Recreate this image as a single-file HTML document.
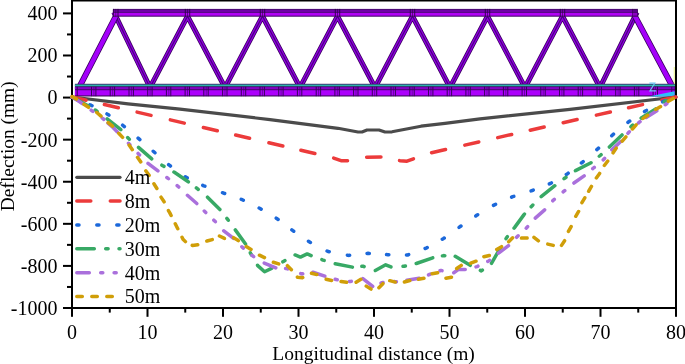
<!DOCTYPE html><html><head><meta charset="utf-8"><style>html,body{margin:0;padding:0;background:#fff;}svg{display:block;will-change:transform;}text{font-family:"Liberation Serif",serif;}</style></head><body>
<svg width="685" height="364" viewBox="0 0 685 364">
<rect width="685" height="364" fill="#fff"/>
<g><path d="M113.85,12.24L150.22,87.95M149.77,87.94L189.60,12.32M185.40,12.32L225.23,87.94M224.77,87.94L264.60,12.32M260.40,12.32L300.23,87.94M299.77,87.94L339.60,12.32M335.40,12.32L375.23,87.94M374.77,87.94L414.60,12.32M410.40,12.32L450.23,87.94M449.77,87.94L489.60,12.32M485.40,12.32L525.23,87.94M524.77,87.94L564.60,12.32M560.40,12.32L600.23,87.94M599.78,87.95L636.99,12.26" fill="none" stroke="#3a0060" stroke-width="5.2"/><path d="M113.85,12.24L150.22,87.95M149.77,87.94L189.60,12.32M185.40,12.32L225.23,87.94M224.77,87.94L264.60,12.32M260.40,12.32L300.23,87.94M299.77,87.94L339.60,12.32M335.40,12.32L375.23,87.94M374.77,87.94L414.60,12.32M410.40,12.32L450.23,87.94M449.77,87.94L489.60,12.32M485.40,12.32L525.23,87.94M524.77,87.94L564.60,12.32M560.40,12.32L600.23,87.94M599.78,87.95L636.99,12.26" fill="none" stroke="#9000e0" stroke-width="3.6"/><path d="M113.85,12.24L150.22,87.95M149.77,87.94L189.60,12.32M185.40,12.32L225.23,87.94M224.77,87.94L264.60,12.32M260.40,12.32L300.23,87.94M299.77,87.94L339.60,12.32M335.40,12.32L375.23,87.94M374.77,87.94L414.60,12.32M410.40,12.32L450.23,87.94M449.77,87.94L489.60,12.32M485.40,12.32L525.23,87.94M524.77,87.94L564.60,12.32M560.40,12.32L600.23,87.94M599.78,87.95L636.99,12.26" fill="none" stroke="#4c0080" stroke-width="1.2"/><path d="M78.87,87.94L117.86,12.30M632.88,12.33L673.24,87.94" fill="none" stroke="#3a0060" stroke-width="6.0"/><path d="M78.87,87.94L117.86,12.30M632.88,12.33L673.24,87.94" fill="none" stroke="#a400fa" stroke-width="4.4"/><rect x="112.9" y="8.9" width="524.7" height="7.85" fill="#4c0c74"/><rect x="112.9" y="9.9" width="524.7" height="2.5" fill="#6e00a6"/><rect x="112.9" y="13.0" width="524.7" height="2.6" fill="#b200f6"/><rect x="113.1" y="8.9" width="1" height="7.85" fill="#2e0048" opacity="0.9"/><rect x="115.3" y="8.9" width="1" height="7.85" fill="#2e0048" opacity="0.6"/><rect x="117.5" y="8.9" width="1" height="7.85" fill="#2e0048" opacity="0.9"/><rect x="184.8" y="8.9" width="1" height="7.85" fill="#2e0048" opacity="0.9"/><rect x="187.0" y="8.9" width="1" height="7.85" fill="#2e0048" opacity="0.6"/><rect x="189.2" y="8.9" width="1" height="7.85" fill="#2e0048" opacity="0.9"/><rect x="259.8" y="8.9" width="1" height="7.85" fill="#2e0048" opacity="0.9"/><rect x="262.0" y="8.9" width="1" height="7.85" fill="#2e0048" opacity="0.6"/><rect x="264.2" y="8.9" width="1" height="7.85" fill="#2e0048" opacity="0.9"/><rect x="334.8" y="8.9" width="1" height="7.85" fill="#2e0048" opacity="0.9"/><rect x="337.0" y="8.9" width="1" height="7.85" fill="#2e0048" opacity="0.6"/><rect x="339.2" y="8.9" width="1" height="7.85" fill="#2e0048" opacity="0.9"/><rect x="409.8" y="8.9" width="1" height="7.85" fill="#2e0048" opacity="0.9"/><rect x="412.0" y="8.9" width="1" height="7.85" fill="#2e0048" opacity="0.6"/><rect x="414.2" y="8.9" width="1" height="7.85" fill="#2e0048" opacity="0.9"/><rect x="484.8" y="8.9" width="1" height="7.85" fill="#2e0048" opacity="0.9"/><rect x="487.0" y="8.9" width="1" height="7.85" fill="#2e0048" opacity="0.6"/><rect x="489.2" y="8.9" width="1" height="7.85" fill="#2e0048" opacity="0.9"/><rect x="559.8" y="8.9" width="1" height="7.85" fill="#2e0048" opacity="0.9"/><rect x="562.0" y="8.9" width="1" height="7.85" fill="#2e0048" opacity="0.6"/><rect x="564.2" y="8.9" width="1" height="7.85" fill="#2e0048" opacity="0.9"/><rect x="632.3" y="8.9" width="1" height="7.85" fill="#2e0048" opacity="0.9"/><rect x="634.5" y="8.9" width="1" height="7.85" fill="#2e0048" opacity="0.6"/><rect x="636.7" y="8.9" width="1" height="7.85" fill="#2e0048" opacity="0.9"/><rect x="74.9" y="83.8" width="600.1" height="12.7" fill="#3c0a5c"/><rect x="74.9" y="84.5" width="600.1" height="1.8" fill="#2bb3aa"/><rect x="74.9" y="87.1" width="600.1" height="2.2" fill="#8600c6"/><rect x="74.9" y="90.2" width="600.1" height="5.2" fill="#ac00fc"/><rect x="76.7" y="86.6" width="1" height="9.6" fill="#3a0060" opacity="1.0"/><rect x="91.0" y="86.6" width="1" height="9.6" fill="#3a0060" opacity="1.0"/><rect x="93.4" y="86.6" width="1" height="9.6" fill="#3a0060" opacity="0.55"/><rect x="95.4" y="86.6" width="1" height="9.6" fill="#3a0060" opacity="1.0"/><rect x="109.7" y="86.6" width="1" height="9.6" fill="#3a0060" opacity="1.0"/><rect x="112.1" y="86.6" width="1" height="9.6" fill="#3a0060" opacity="0.55"/><rect x="114.1" y="86.6" width="1" height="9.6" fill="#3a0060" opacity="1.0"/><rect x="128.5" y="86.6" width="1" height="9.6" fill="#3a0060" opacity="1.0"/><rect x="130.9" y="86.6" width="1" height="9.6" fill="#3a0060" opacity="0.55"/><rect x="132.9" y="86.6" width="1" height="9.6" fill="#3a0060" opacity="1.0"/><rect x="147.2" y="86.6" width="1" height="9.6" fill="#3a0060" opacity="1.0"/><rect x="149.6" y="86.6" width="1" height="9.6" fill="#3a0060" opacity="0.55"/><rect x="151.6" y="86.6" width="1" height="9.6" fill="#3a0060" opacity="1.0"/><rect x="165.9" y="86.6" width="1" height="9.6" fill="#3a0060" opacity="1.0"/><rect x="168.3" y="86.6" width="1" height="9.6" fill="#3a0060" opacity="0.55"/><rect x="170.3" y="86.6" width="1" height="9.6" fill="#3a0060" opacity="1.0"/><rect x="184.6" y="86.6" width="1" height="9.6" fill="#3a0060" opacity="1.0"/><rect x="187.0" y="86.6" width="1" height="9.6" fill="#3a0060" opacity="0.55"/><rect x="189.0" y="86.6" width="1" height="9.6" fill="#3a0060" opacity="1.0"/><rect x="203.3" y="86.6" width="1" height="9.6" fill="#3a0060" opacity="1.0"/><rect x="205.7" y="86.6" width="1" height="9.6" fill="#3a0060" opacity="0.55"/><rect x="207.7" y="86.6" width="1" height="9.6" fill="#3a0060" opacity="1.0"/><rect x="222.1" y="86.6" width="1" height="9.6" fill="#3a0060" opacity="1.0"/><rect x="224.5" y="86.6" width="1" height="9.6" fill="#3a0060" opacity="0.55"/><rect x="226.5" y="86.6" width="1" height="9.6" fill="#3a0060" opacity="1.0"/><rect x="240.8" y="86.6" width="1" height="9.6" fill="#3a0060" opacity="1.0"/><rect x="243.2" y="86.6" width="1" height="9.6" fill="#3a0060" opacity="0.55"/><rect x="245.2" y="86.6" width="1" height="9.6" fill="#3a0060" opacity="1.0"/><rect x="259.5" y="86.6" width="1" height="9.6" fill="#3a0060" opacity="1.0"/><rect x="261.9" y="86.6" width="1" height="9.6" fill="#3a0060" opacity="0.55"/><rect x="263.9" y="86.6" width="1" height="9.6" fill="#3a0060" opacity="1.0"/><rect x="278.2" y="86.6" width="1" height="9.6" fill="#3a0060" opacity="1.0"/><rect x="280.6" y="86.6" width="1" height="9.6" fill="#3a0060" opacity="0.55"/><rect x="282.6" y="86.6" width="1" height="9.6" fill="#3a0060" opacity="1.0"/><rect x="296.9" y="86.6" width="1" height="9.6" fill="#3a0060" opacity="1.0"/><rect x="299.3" y="86.6" width="1" height="9.6" fill="#3a0060" opacity="0.55"/><rect x="301.3" y="86.6" width="1" height="9.6" fill="#3a0060" opacity="1.0"/><rect x="315.7" y="86.6" width="1" height="9.6" fill="#3a0060" opacity="1.0"/><rect x="318.1" y="86.6" width="1" height="9.6" fill="#3a0060" opacity="0.55"/><rect x="320.1" y="86.6" width="1" height="9.6" fill="#3a0060" opacity="1.0"/><rect x="334.4" y="86.6" width="1" height="9.6" fill="#3a0060" opacity="1.0"/><rect x="336.8" y="86.6" width="1" height="9.6" fill="#3a0060" opacity="0.55"/><rect x="338.8" y="86.6" width="1" height="9.6" fill="#3a0060" opacity="1.0"/><rect x="353.1" y="86.6" width="1" height="9.6" fill="#3a0060" opacity="1.0"/><rect x="355.5" y="86.6" width="1" height="9.6" fill="#3a0060" opacity="0.55"/><rect x="357.5" y="86.6" width="1" height="9.6" fill="#3a0060" opacity="1.0"/><rect x="371.8" y="86.6" width="1" height="9.6" fill="#3a0060" opacity="1.0"/><rect x="374.2" y="86.6" width="1" height="9.6" fill="#3a0060" opacity="0.55"/><rect x="376.2" y="86.6" width="1" height="9.6" fill="#3a0060" opacity="1.0"/><rect x="390.5" y="86.6" width="1" height="9.6" fill="#3a0060" opacity="1.0"/><rect x="392.9" y="86.6" width="1" height="9.6" fill="#3a0060" opacity="0.55"/><rect x="394.9" y="86.6" width="1" height="9.6" fill="#3a0060" opacity="1.0"/><rect x="409.3" y="86.6" width="1" height="9.6" fill="#3a0060" opacity="1.0"/><rect x="411.7" y="86.6" width="1" height="9.6" fill="#3a0060" opacity="0.55"/><rect x="413.7" y="86.6" width="1" height="9.6" fill="#3a0060" opacity="1.0"/><rect x="428.0" y="86.6" width="1" height="9.6" fill="#3a0060" opacity="1.0"/><rect x="430.4" y="86.6" width="1" height="9.6" fill="#3a0060" opacity="0.55"/><rect x="432.4" y="86.6" width="1" height="9.6" fill="#3a0060" opacity="1.0"/><rect x="446.7" y="86.6" width="1" height="9.6" fill="#3a0060" opacity="1.0"/><rect x="449.1" y="86.6" width="1" height="9.6" fill="#3a0060" opacity="0.55"/><rect x="451.1" y="86.6" width="1" height="9.6" fill="#3a0060" opacity="1.0"/><rect x="465.4" y="86.6" width="1" height="9.6" fill="#3a0060" opacity="1.0"/><rect x="467.8" y="86.6" width="1" height="9.6" fill="#3a0060" opacity="0.55"/><rect x="469.8" y="86.6" width="1" height="9.6" fill="#3a0060" opacity="1.0"/><rect x="484.1" y="86.6" width="1" height="9.6" fill="#3a0060" opacity="1.0"/><rect x="486.5" y="86.6" width="1" height="9.6" fill="#3a0060" opacity="0.55"/><rect x="488.5" y="86.6" width="1" height="9.6" fill="#3a0060" opacity="1.0"/><rect x="502.9" y="86.6" width="1" height="9.6" fill="#3a0060" opacity="1.0"/><rect x="505.3" y="86.6" width="1" height="9.6" fill="#3a0060" opacity="0.55"/><rect x="507.3" y="86.6" width="1" height="9.6" fill="#3a0060" opacity="1.0"/><rect x="521.6" y="86.6" width="1" height="9.6" fill="#3a0060" opacity="1.0"/><rect x="524.0" y="86.6" width="1" height="9.6" fill="#3a0060" opacity="0.55"/><rect x="526.0" y="86.6" width="1" height="9.6" fill="#3a0060" opacity="1.0"/><rect x="540.3" y="86.6" width="1" height="9.6" fill="#3a0060" opacity="1.0"/><rect x="542.7" y="86.6" width="1" height="9.6" fill="#3a0060" opacity="0.55"/><rect x="544.7" y="86.6" width="1" height="9.6" fill="#3a0060" opacity="1.0"/><rect x="559.0" y="86.6" width="1" height="9.6" fill="#3a0060" opacity="1.0"/><rect x="561.4" y="86.6" width="1" height="9.6" fill="#3a0060" opacity="0.55"/><rect x="563.4" y="86.6" width="1" height="9.6" fill="#3a0060" opacity="1.0"/><rect x="577.7" y="86.6" width="1" height="9.6" fill="#3a0060" opacity="1.0"/><rect x="580.1" y="86.6" width="1" height="9.6" fill="#3a0060" opacity="0.55"/><rect x="582.1" y="86.6" width="1" height="9.6" fill="#3a0060" opacity="1.0"/><rect x="596.5" y="86.6" width="1" height="9.6" fill="#3a0060" opacity="1.0"/><rect x="598.9" y="86.6" width="1" height="9.6" fill="#3a0060" opacity="0.55"/><rect x="600.9" y="86.6" width="1" height="9.6" fill="#3a0060" opacity="1.0"/><rect x="615.2" y="86.6" width="1" height="9.6" fill="#3a0060" opacity="1.0"/><rect x="617.6" y="86.6" width="1" height="9.6" fill="#3a0060" opacity="0.55"/><rect x="619.6" y="86.6" width="1" height="9.6" fill="#3a0060" opacity="1.0"/><rect x="633.9" y="86.6" width="1" height="9.6" fill="#3a0060" opacity="1.0"/><rect x="636.3" y="86.6" width="1" height="9.6" fill="#3a0060" opacity="0.55"/><rect x="638.3" y="86.6" width="1" height="9.6" fill="#3a0060" opacity="1.0"/><rect x="652.6" y="86.6" width="1" height="9.6" fill="#3a0060" opacity="1.0"/><rect x="655.0" y="86.6" width="1" height="9.6" fill="#3a0060" opacity="0.55"/><rect x="657.0" y="86.6" width="1" height="9.6" fill="#3a0060" opacity="1.0"/><rect x="671.3" y="86.6" width="1" height="9.6" fill="#3a0060" opacity="1.0"/><rect x="673.7" y="86.6" width="1" height="9.6" fill="#3a0060" opacity="0.55"/><polygon points="648.7,96.4 674.6,91.3 674.6,96.4" fill="#2ec0f8"/><path d="M649.4,83.1 H654.9 L649.9,90.9 H656" fill="none" stroke="#6cc6f2" stroke-width="1.1"/><rect x="673.8" y="67" width="0.8" height="17" fill="#e4f070"/></g>
<g><rect x="71" y="0" width="2" height="309" fill="#000"/><rect x="71" y="307" width="606" height="2" fill="#000"/><rect x="675" y="0" width="2" height="309" fill="#000"/><rect x="71" y="0" width="606" height="1.5" fill="#000"/><rect x="63" y="12.40" width="9" height="2" fill="#000"/><text x="57.5" y="20.30" font-size="20" text-anchor="end">400</text><rect x="67" y="33.44" width="5" height="2" fill="#000"/><rect x="63" y="54.49" width="9" height="2" fill="#000"/><text x="57.5" y="62.39" font-size="20" text-anchor="end">200</text><rect x="67" y="75.53" width="5" height="2" fill="#000"/><rect x="63" y="96.57" width="9" height="2" fill="#000"/><text x="57.5" y="104.47" font-size="20" text-anchor="end">0</text><rect x="67" y="117.61" width="5" height="2" fill="#000"/><rect x="63" y="138.66" width="9" height="2" fill="#000"/><text x="57.5" y="146.56" font-size="20" text-anchor="end">-200</text><rect x="67" y="159.70" width="5" height="2" fill="#000"/><rect x="63" y="180.74" width="9" height="2" fill="#000"/><text x="57.5" y="188.64" font-size="20" text-anchor="end">-400</text><rect x="67" y="201.79" width="5" height="2" fill="#000"/><rect x="63" y="222.83" width="9" height="2" fill="#000"/><text x="57.5" y="230.73" font-size="20" text-anchor="end">-600</text><rect x="67" y="243.87" width="5" height="2" fill="#000"/><rect x="63" y="264.91" width="9" height="2" fill="#000"/><text x="57.5" y="272.81" font-size="20" text-anchor="end">-800</text><rect x="67" y="285.96" width="5" height="2" fill="#000"/><rect x="63" y="307.00" width="9" height="2" fill="#000"/><text x="57.5" y="314.90" font-size="20" text-anchor="end">-1000</text><rect x="71.00" y="308" width="2" height="8.8" fill="#000"/><text x="72.00" y="338.6" font-size="20" text-anchor="middle">0</text><rect x="108.75" y="308" width="2" height="4.6" fill="#000"/><rect x="146.50" y="308" width="2" height="8.8" fill="#000"/><text x="147.50" y="338.6" font-size="20" text-anchor="middle">10</text><rect x="184.25" y="308" width="2" height="4.6" fill="#000"/><rect x="222.00" y="308" width="2" height="8.8" fill="#000"/><text x="223.00" y="338.6" font-size="20" text-anchor="middle">20</text><rect x="259.75" y="308" width="2" height="4.6" fill="#000"/><rect x="297.50" y="308" width="2" height="8.8" fill="#000"/><text x="298.50" y="338.6" font-size="20" text-anchor="middle">30</text><rect x="335.25" y="308" width="2" height="4.6" fill="#000"/><rect x="373.00" y="308" width="2" height="8.8" fill="#000"/><text x="374.00" y="338.6" font-size="20" text-anchor="middle">40</text><rect x="410.75" y="308" width="2" height="4.6" fill="#000"/><rect x="448.50" y="308" width="2" height="8.8" fill="#000"/><text x="449.50" y="338.6" font-size="20" text-anchor="middle">50</text><rect x="486.25" y="308" width="2" height="4.6" fill="#000"/><rect x="524.00" y="308" width="2" height="8.8" fill="#000"/><text x="525.00" y="338.6" font-size="20" text-anchor="middle">60</text><rect x="561.75" y="308" width="2" height="4.6" fill="#000"/><rect x="599.50" y="308" width="2" height="8.8" fill="#000"/><text x="600.50" y="338.6" font-size="20" text-anchor="middle">70</text><rect x="637.25" y="308" width="2" height="4.6" fill="#000"/><rect x="675.00" y="308" width="2" height="8.8" fill="#000"/><text x="676.00" y="338.6" font-size="20" text-anchor="middle">80</text><text x="373.6" y="359.8" font-size="19.5" text-anchor="middle">Longitudinal distance (m)</text><text transform="translate(14.0,146.3) rotate(-90)" x="0" y="0" font-size="19.4" text-anchor="middle">Deflection (mm)</text></g>
<defs><clipPath id="pc"><rect x="69" y="0" width="609" height="310"/></clipPath></defs><g clip-path="url(#pc)">
<polyline points="72.0,97.0 128.0,103.8 180.0,109.2 270.0,119.6 338.0,128.3 358.0,132.0 362.0,132.0 367.0,130.0 379.0,130.0 385.0,132.0 392.0,131.8 421.0,126.2 445.0,123.4 480.0,118.9 570.0,109.4 676.0,97.0" fill="none" stroke="#4b4b4b" stroke-width="3.2" stroke-linecap="round" stroke-linejoin="round"/>
<path d="M72.03,97.01 L85.96,100.25M104.38,104.54 L118.31,107.78M137.10,112.15 L151.03,115.39M170.35,119.88 L184.28,123.13M203.37,127.57 L217.29,130.81M235.63,135.07 L249.55,138.32M268.90,142.82 L282.83,146.06M300.92,150.27 L314.85,153.51M333.69,158.10 L341.00,160.70 L347.54,160.70M366.65,157.19 L380.95,157.11M399.56,160.62 L400.00,160.70 L407.00,161.20 L413.43,158.87M431.57,152.67 L445.51,149.49M464.83,145.10 L478.77,141.92M497.70,137.61 L511.64,134.43M530.24,130.20 L544.18,127.02M563.17,122.70 L577.11,119.52M596.38,115.13 L610.33,111.96M628.56,107.81 L642.50,104.63M661.86,100.22 L675.80,97.05" fill="none" stroke="#ec3b3b" stroke-width="3.5" stroke-linecap="round" stroke-linejoin="round"/>
<path d="M89.94,104.74 L91.00,105.20 L92.01,105.75M106.99,113.95 L108.00,114.50 L108.93,115.18M122.60,125.21 L123.40,125.80 L124.40,126.64M138.12,138.16 L139.00,138.90 L139.87,139.65M153.23,151.25 L154.10,152.00 L154.97,152.75M168.64,164.63 L169.30,165.20 L170.46,166.04M185.27,176.73 L186.20,177.40 L187.24,177.90M202.76,185.30 L203.80,185.80 L204.88,186.20M222.52,192.70 L223.60,193.10 L224.68,193.48M241.22,199.32 L242.30,199.70 L243.33,200.21M259.15,208.03 L260.10,208.50 L261.16,209.14M276.21,218.21 L277.20,218.80 L278.12,219.49M291.88,229.84 L292.90,230.60 L293.75,231.18M308.45,241.25 L309.40,241.90 L310.42,242.43M327.08,250.97 L328.10,251.50 L329.23,251.72M347.37,255.18 L348.50,255.40 L349.64,255.28M367.05,253.41 L368.10,253.30 L369.34,253.39M386.55,254.62 L387.70,254.70 L388.85,254.72M406.45,254.98 L407.60,255.00 L408.68,254.60M425.12,248.50 L426.20,248.10 L427.21,247.55M442.29,239.25 L443.30,238.70 L444.23,238.03M459.07,227.37 L460.00,226.70 L460.95,226.05M475.75,215.95 L476.70,215.30 L477.69,214.72M493.51,205.38 L494.50,204.80 L495.55,204.33M511.65,197.17 L512.70,196.70 L513.80,196.35M531.10,190.85 L532.20,190.50 L533.27,190.09M549.33,183.91 L550.40,183.50 L551.40,182.93M566.30,174.47 L567.30,173.90 L568.21,173.20M581.39,163.00 L582.30,162.30 L583.17,161.55M596.83,149.65 L597.70,148.90 L598.54,148.11M611.76,135.69 L612.60,134.90 L613.49,134.17M627.91,122.43 L628.80,121.70 L629.77,121.08M644.51,111.58 L645.40,111.00 L646.49,110.42M662.66,101.81 L664.00,101.10 L664.74,100.85" fill="none" stroke="#1c68da" stroke-width="3.5" stroke-linecap="round" stroke-linejoin="round"/>
<path d="M73.36,97.74 L84.00,103.50 L88.67,106.21M95.16,110.00 L96.20,110.60 L97.16,111.32M107.13,118.83 L120.82,129.73M127.62,137.52 L128.30,138.30 L129.32,139.21M138.52,147.44 L151.73,158.91M161.87,165.18 L162.90,165.80 L163.94,166.39M173.93,172.03 L174.40,172.30 L187.90,181.50 L188.39,181.88M196.35,187.97 L197.30,188.70 L198.22,189.46M207.51,197.21 L219.89,209.59M226.86,218.36 L227.60,219.30 L228.30,220.27M235.29,229.90 L245.54,244.08M250.31,252.90 L250.90,254.00 L251.48,254.99M257.54,265.32 L257.70,265.60 L264.60,271.80 L271.50,268.40 L271.68,268.29M282.86,261.80 L283.90,261.20 L284.94,260.60M295.09,254.98 L300.40,257.10 L307.20,253.90 L311.12,255.58M321.88,259.67 L323.00,260.10 L324.15,260.45M335.22,263.78 L352.39,267.14M361.81,266.32 L363.00,266.20 L364.11,266.65M375.35,270.54 L385.70,264.80 L390.93,266.96M403.01,266.34 L404.20,266.20 L405.37,265.94M416.22,263.52 L416.30,263.50 L432.70,257.80 L432.75,257.79M442.42,255.84 L443.60,255.60 L444.80,255.65M455.21,256.28 L470.19,265.32M480.33,270.42 L481.30,270.90 L482.37,270.13M491.49,263.29 L496.90,253.90 L500.33,248.18M506.01,238.71 L506.80,237.40 L507.34,236.71M514.08,228.19 L514.70,227.40 L524.00,214.60 L524.45,214.11M531.19,206.78 L532.00,205.90 L532.84,205.05M541.17,196.67 L554.83,185.73M564.04,178.73 L565.00,178.00 L565.98,177.31M575.40,170.67 L575.50,170.60 L591.00,162.80 L591.02,162.78M599.26,156.25 L600.20,155.50 L601.08,154.69M609.37,147.04 L622.03,134.96M630.92,126.72 L631.80,125.90 L632.72,125.13M641.12,118.18 L641.70,117.70 L655.30,109.30 L655.88,108.82M664.18,101.95 L665.20,101.10 L666.20,100.72" fill="none" stroke="#38a965" stroke-width="3.5" stroke-linecap="round" stroke-linejoin="round"/>
<path d="M72.00,97.00 L80.00,102.00 L82.26,103.66M91.15,110.18 L92.00,110.80 L92.86,111.41M102.25,118.07 L103.00,118.60 L103.88,119.39M108.05,123.10 L113.00,127.50 L117.16,131.66M128.47,143.25 L129.20,144.00 L129.92,144.76M138.08,153.44 L138.80,154.20 L139.55,154.94M148.02,163.32 L157.93,170.94M166.85,177.48 L167.70,178.10 L168.52,178.75M177.18,185.65 L178.00,186.30 L178.76,187.03M187.40,195.30 L187.40,195.30 L196.79,203.55M204.26,211.06 L205.00,211.80 L205.76,212.53M213.83,220.19 L215.00,221.30 L215.33,221.66M223.70,230.79 L223.80,230.90 L233.55,238.48M241.84,246.74 L242.50,247.40 L243.39,248.16M251.98,255.34 L253.66,256.60M264.25,263.05 L275.78,267.89M285.55,268.58 L286.60,268.60 L287.59,268.95M300.71,273.55 L301.70,273.90 L302.74,273.74M312.95,272.28 L324.82,276.21M335.19,279.30 L336.20,279.60 L337.24,279.75M349.26,281.45 L350.30,281.60 L351.31,281.31M362.88,278.65 L372.72,286.35M381.05,283.15 L382.00,282.70 L383.03,282.48M394.32,281.59 L396.00,281.90 L396.38,281.84M406.84,280.33 L419.16,278.27M428.52,274.87 L429.50,274.50 L430.49,274.15M440.01,270.75 L441.00,270.40 L442.01,270.69M453.75,272.75 L458.20,269.60 L465.25,269.60M475.99,266.89 L477.10,266.60 L477.96,266.19M487.82,261.42 L488.70,261.00 L489.58,260.30M498.48,253.19 L498.60,253.10 L508.49,245.71M516.62,237.30 L517.40,236.50 L518.11,235.82M526.18,228.17 L527.00,227.40 L527.64,226.67M535.26,218.07 L544.65,209.82M552.80,200.78 L553.50,200.00 L554.30,199.33M563.15,191.92 L564.00,191.20 L564.76,190.57M573.92,183.04 L584.14,175.85M592.70,168.68 L593.50,168.00 L594.30,167.33M603.20,159.87 L604.00,159.20 L604.67,158.40M611.83,149.87 L620.97,141.33M627.91,133.29 L628.60,132.50 L629.35,131.77M638.45,122.93 L639.20,122.20 L640.07,121.61M646.23,117.45 L646.60,117.20 L656.50,111.00 L656.80,110.79M665.23,104.73 L666.94,103.51" fill="none" stroke="#aa70dc" stroke-width="3.5" stroke-linecap="round" stroke-linejoin="round"/>
<path d="M72.00,96.50 L76.20,98.90 L76.40,99.04M83.88,104.23 L88.52,107.37M96.76,112.48 L101.00,116.10 L101.02,116.12M108.15,122.58 L112.00,125.70 L112.43,126.18M118.75,133.29 L122.60,137.35M129.09,145.11 L132.31,149.69M137.48,157.32 L140.72,161.88M145.77,170.80 L149.12,175.29M153.91,183.73 L156.89,188.47M161.01,197.16 L164.09,201.83M168.45,210.60 L169.80,212.90 L171.12,215.52M175.26,223.74 L177.50,228.20 L177.77,228.74M182.03,237.26 L183.00,239.20 L185.43,241.63M192.25,245.38 L192.50,245.50 L197.76,244.73M206.84,241.06 L207.00,241.00 L212.24,239.57M219.44,236.03 L224.50,238.40 L224.52,238.40M233.60,237.66 L237.50,240.00 L238.34,240.64M246.25,246.57 L251.05,249.45M259.42,255.20 L264.48,257.59M273.36,262.26 L278.71,263.91M287.42,265.72 L291.38,269.68M297.35,277.00 L297.60,277.30 L302.40,277.70 L302.75,277.52M311.48,273.22 L316.90,274.60 L316.91,274.60M326.17,279.18 L331.63,280.42M341.04,281.50 L346.59,282.22M356.11,282.26 L360.89,279.34M366.22,286.13 L370.98,289.07M378.92,287.68 L382.88,283.72M389.79,280.68 L395.21,282.09M404.40,281.95 L409.81,280.49M418.42,279.15 L423.96,278.35M432.13,273.71 L437.65,272.79M445.96,278.19 L451.40,277.30 L451.44,277.23M456.67,268.55 L456.70,268.50 L461.28,265.38M470.79,263.21 L476.01,261.19M483.87,256.72 L489.33,255.48M496.71,249.48 L501.56,246.69M508.67,241.73 L512.63,237.77M521.50,238.09 L521.60,238.10 L526.90,238.10 L527.10,238.06M533.97,237.41 L538.43,240.79M547.78,244.11 L553.24,245.39M561.51,245.37 L564.60,240.70M568.44,231.45 L571.14,226.54M575.73,216.28 L578.60,211.47M581.93,202.68 L584.80,197.87M588.64,191.27 L588.80,191.00 L591.46,186.43M596.34,177.95 L599.60,173.50 L599.64,173.43M604.34,165.45 L607.77,161.03M613.12,152.78 L616.26,148.14M622.25,141.19 L625.88,136.93M632.39,128.95 L636.15,124.80M643.04,118.41 L647.71,115.32M655.67,109.40 L660.20,106.80 L660.51,106.58M668.40,101.27 L673.28,98.53" fill="none" stroke="#d09e08" stroke-width="3.5" stroke-linecap="round" stroke-linejoin="round"/>
</g>
<g><line x1="76.8" y1="177.3" x2="120" y2="177.3" stroke="#4b4b4b" stroke-width="3.2" stroke-linecap="round"/><text x="124.8" y="184.1" font-size="20">4m</text><line x1="76.8" y1="201" x2="120" y2="201" stroke="#ec3b3b" stroke-width="3.5" stroke-linecap="round" stroke-dasharray="14 19.5"/><text x="124.8" y="207.8" font-size="20">8m</text><line x1="76.8" y1="225" x2="120" y2="225" stroke="#1c68da" stroke-width="3.5" stroke-linecap="round" stroke-dasharray="2.2 17.8"/><text x="124.8" y="231.8" font-size="20">20m</text><line x1="76.8" y1="248.7" x2="120" y2="248.7" stroke="#38a965" stroke-width="3.5" stroke-linecap="round" stroke-dasharray="17.5 11.4 2.4 10.9"/><text x="124.8" y="255.5" font-size="20">30m</text><line x1="76.8" y1="272.7" x2="120" y2="272.7" stroke="#aa70dc" stroke-width="3.5" stroke-linecap="round" stroke-dasharray="12.5 11.4 2.1 11.3 2.1 11.6"/><text x="124.8" y="279.5" font-size="20">40m</text><line x1="76.8" y1="296.6" x2="120" y2="296.6" stroke="#d09e08" stroke-width="3.5" stroke-linecap="round" stroke-dasharray="5.5 9.5"/><text x="124.8" y="303.4" font-size="20">50m</text></g>
</svg></body></html>
